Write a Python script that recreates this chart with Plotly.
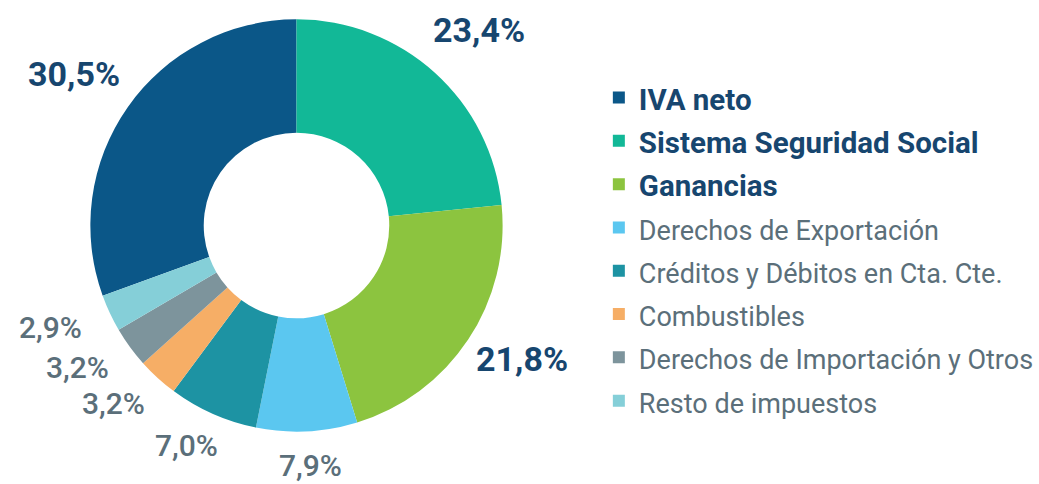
import math
import plotly.graph_objects as go

categories = ["IVA neto", "Sistema Seguridad Social", "Ganancias", "Derechos de Exportación",
              "Créditos y Débitos en Cta. Cte.", "Combustibles",
              "Derechos de Importación y Otros", "Resto de impuestos"]
shares = [30.5, 23.4, 21.8, 7.9, 7.0, 3.2, 3.2, 2.9]
colors = ["#0b5788", "#12b897", "#8cc43f", "#5bc7f0", "#1d93a3", "#f6ae66", "#7d949c", "#85cfd8"]
main_items = 3  # first three are highlighted

dark = "#17466f"
grey = "#5b6f7a"

W, H = 1039, 484
cx, cy, R = 303.5, 225.5, 211      # pie centre / radius in px
gap = 18

text_labels = [f"{v:.1f}%".replace(".", ",") for v in shares]
text_colors = [dark if i < main_items else grey for i in range(len(shares))]
text_sizes = [34 if i < main_items else 30 for i in range(len(shares))]
text_weights = [700 if i < main_items else 500 for i in range(len(shares))]
xpads = [0 if i < main_items else 14 for i in range(len(shares))]
legend_labels = []
for i, c in enumerate(categories):
    if i < main_items:
        legend_labels.append(f"<span style='font-size:29.5px;font-weight:bold;fill:{dark}'>{c}</span>")
    else:
        legend_labels.append(f"<span style='font-size:27px;fill:{grey}'>{c}</span>")

total = sum(shares)
first_frac = shares[0] / total
rot = -360 * first_frac

fig = go.Figure()
fig.add_trace(go.Pie(
    labels=legend_labels,
    values=shares,
    textinfo="none",
    marker=dict(colors=colors, line=dict(width=0)),
    hole=0.45,
    sort=False,
    direction="clockwise",
    rotation=rot,
    domain=dict(x=[(cx - R) / W, (cx + R) / W], y=[1 - (cy + R) / H, 1 - (cy - R) / H]),
    hoverinfo="skip",
))

# percentage labels placed just outside each slice's mid-angle
annotations = []
cum = 0.0
for v, t, col, sz, wt, xp in zip(shares, text_labels, text_colors, text_sizes, text_weights, xpads):
    mid = math.radians(rot + 360 * (cum + v / 2) / total)
    cum += v
    s, c = math.sin(mid), math.cos(mid)
    w, h = 0.56 * sz * len(t), 0.75 * sz
    x = cx + (R + gap) * s
    y = cy - (R + gap) * c
    annotations.append(dict(
        x=x / W, y=1 - y / H, xref="paper", yref="paper",
        text=t, showarrow=False, xanchor="center", yanchor="middle",
        xshift=s * (w / 2 + xp), yshift=c * h / 2 + max(c, 0) * 22,
        font=dict(size=sz, color=col, family="Roboto", weight=wt),
    ))

fig.update_layout(
    width=W, height=H,
    margin=dict(l=0, r=0, t=0, b=0),
    paper_bgcolor="white",
    plot_bgcolor="white",
    font=dict(family="Roboto", color=grey),
    showlegend=True,
    annotations=annotations,
    legend=dict(x=0.59, y=0.8535, xanchor="left", yanchor="top",
                font=dict(size=31, family="Roboto"),
                bgcolor="rgba(0,0,0,0)"),
)

fig.write_html("out.html", config={"displayModeBar": False},
               post_script="document.body.style.margin='0';")
